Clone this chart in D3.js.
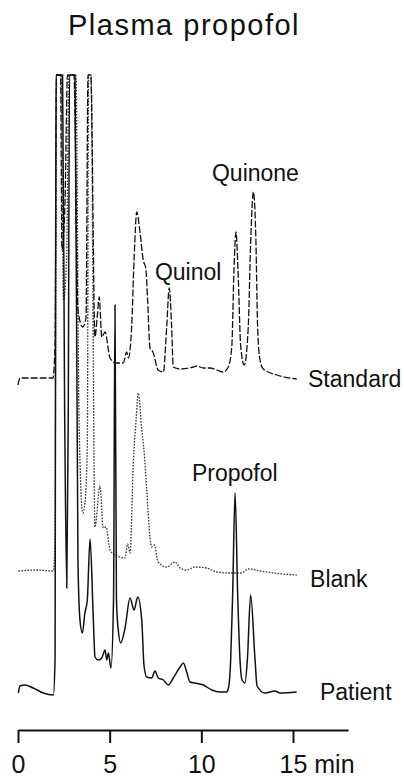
<!DOCTYPE html>
<html>
<head>
<meta charset="utf-8">
<script src="https://d3js.org/d3.v7.min.js"></script>
<style>
  body { margin: 0; background: #fff; }
  text { font-family: "Liberation Sans", Arial, Helvetica, sans-serif; fill: #111; }
</style>
</head>
<body>
<script>
// retention time (min) and detector signal (arbitrary units, trace offset included)
var standard = [
  [0.00, 345], [0.11, 352], [1.91, 352], [2.02, 385], [2.10, 655], [2.32, 655],
  [2.40, 480], [2.56, 525], [2.70, 655], [3.05, 655], [3.27, 420], [3.53, 403],
  [3.71, 412], [3.82, 655], [3.97, 655], [4.20, 393], [4.33, 415], [4.43, 433],
  [4.57, 393], [4.75, 398], [5.02, 372], [5.35, 367], [5.74, 367], [5.93, 378],
  [6.02, 372], [6.20, 403], [6.33, 470], [6.48, 518], [6.66, 497], [6.83, 470],
  [6.97, 462], [7.07, 430], [7.20, 382], [7.36, 378], [7.65, 360], [7.93, 358],
  [8.11, 403], [8.25, 442], [8.38, 403], [8.47, 363], [8.84, 361], [9.56, 363],
  [9.75, 364], [10.11, 362], [10.47, 362], [10.84, 360], [11.20, 358], [11.47, 363],
  [11.66, 383], [11.78, 460], [11.89, 498], [12.00, 460], [12.15, 383], [12.34, 365],
  [12.56, 403], [12.69, 487], [12.84, 538], [12.98, 487], [13.07, 403], [13.20, 370],
  [13.38, 361], [14.11, 355], [15.20, 351]
];

var blank = [
  [0.02, 159], [1.02, 160], [1.93, 159], [2.02, 190], [2.10, 655], [2.35, 655],
  [2.48, 430], [2.65, 470], [2.78, 655], [3.16, 655], [3.33, 310], [3.53, 217],
  [3.65, 227], [3.78, 283], [3.85, 655], [3.98, 655], [4.20, 203], [4.47, 244],
  [4.65, 202], [4.80, 203], [5.02, 180], [5.29, 175], [5.84, 172], [5.98, 186],
  [6.11, 177], [6.29, 267], [6.44, 310], [6.56, 337], [6.75, 300], [6.87, 280],
  [7.02, 240], [7.20, 193], [7.29, 183], [7.43, 185], [7.65, 168], [8.11, 163],
  [8.56, 168], [8.84, 162], [9.20, 160], [9.65, 163], [10.29, 162], [10.84, 158],
  [11.56, 157], [12.20, 157], [12.56, 161], [13.20, 159], [13.93, 157], [15.20, 155]
];

var patient = [
  [0.02, 37], [0.11, 44], [0.38, 45], [0.83, 42], [1.38, 37], [1.93, 35],
  [2.02, 70], [2.07, 655], [2.43, 655], [2.54, 330], [2.66, 142], [2.74, 310],
  [2.81, 655], [3.11, 655], [3.27, 170], [3.38, 110], [3.51, 97], [3.65, 117],
  [3.78, 130], [3.93, 191], [4.11, 110], [4.20, 73], [4.38, 70], [4.57, 72],
  [4.75, 80], [4.84, 70], [4.93, 77], [5.07, 62], [5.21, 130], [5.29, 425],
  [5.37, 130], [5.47, 100], [5.60, 87], [5.84, 102], [6.11, 132], [6.33, 120],
  [6.53, 133], [6.75, 110], [6.87, 65], [7.02, 53], [7.29, 52], [7.47, 59],
  [7.65, 52], [7.93, 50], [8.20, 45], [8.47, 52], [8.84, 63], [9.02, 67],
  [9.20, 58], [9.38, 48], [9.65, 47], [10.11, 45], [10.57, 40], [11.02, 38],
  [11.38, 38], [11.48, 42], [11.60, 70], [11.71, 137], [11.84, 237], [11.98, 137],
  [12.11, 70], [12.22, 50], [12.38, 47], [12.51, 70], [12.69, 135], [12.93, 70],
  [13.04, 44], [13.47, 37], [14.02, 39], [14.29, 37], [15.20, 38]
];

var xTicks = [0, 5, 10, 15];

// label text with its anchor in data units (time, signal)
var peakLabels = [
  { text: "Quinone", t: 10.58, s: 549 },
  { text: "Quinol", t: 7.47, s: 450 },
  { text: "Propofol", t: 9.49, s: 249 }
];
var traceLabels = [
  { text: "Standard", t: 15.82, s: 343 },
  { text: "Blank", t: 15.93, s: 143 },
  { text: "Patient", t: 16.47, s: 30 }
];

var width = 404,
    height = 781;

var svg = d3.select("body")
  .append("svg")
  .attr("width", width)
  .attr("height", height);

var x = d3.scaleLinear().domain([0, 18]).range([18, 348]);
var y = d3.scaleLinear().domain([0, 655]).range([730, 75]);

var line = d3.line()
  .x(function(d){ return x(d[0]); })
  .y(function(d){ return y(d[1]); })
  .curve(d3.curveMonotoneX);

// title
svg.append("text")
  .attr("x", 68)
  .attr("y", 35)
  .style("font-size", "29px")
  .style("letter-spacing", "1.5px")
  .text("Plasma propofol");

// traces
svg.append("path")
  .datum(blank)
  .attr("d", line)
  .attr("fill", "none")
  .attr("stroke", "#333")
  .attr("stroke-width", 1.3)
  .attr("stroke-dasharray", "1.6,1.4");

svg.append("path")
  .datum(standard)
  .attr("d", line)
  .attr("fill", "none")
  .attr("stroke", "#111")
  .attr("stroke-width", 1.3)
  .attr("stroke-dasharray", "7,2");

svg.append("path")
  .datum(patient)
  .attr("d", line)
  .attr("fill", "none")
  .attr("stroke", "#111")
  .attr("stroke-width", 1.5);

// labels
svg.selectAll(".peak-label")
  .data(peakLabels.concat(traceLabels))
  .enter()
  .append("text")
  .attr("class", "peak-label")
  .attr("x", function(d){ return x(d.t); })
  .attr("y", function(d){ return y(d.s); })
  .style("font-size", "23px")
  .text(function(d){ return d.text; });

// time axis
var axis = d3.axisBottom(x)
  .tickValues(xTicks)
  .tickSize(13)
  .tickSizeOuter(0)
  .tickPadding(12)
  .tickFormat(function(d){ return d === 15 ? "15 min" : d; });

var gAxis = svg.append("g")
  .attr("transform", "translate(0," + y(0) + ")")
  .call(axis);

gAxis.select(".domain").attr("stroke", "#111").attr("stroke-width", 2);
gAxis.selectAll(".tick line").attr("stroke", "#111").attr("stroke-width", 2);
gAxis.selectAll(".tick text")
  .style("font-size", "25px")
  .attr("fill", "#111");
gAxis.selectAll(".tick text")
  .filter(function(d){ return d === 15; })
  .attr("text-anchor", "start")
  .attr("x", -14);
</script>
</body>
</html>
